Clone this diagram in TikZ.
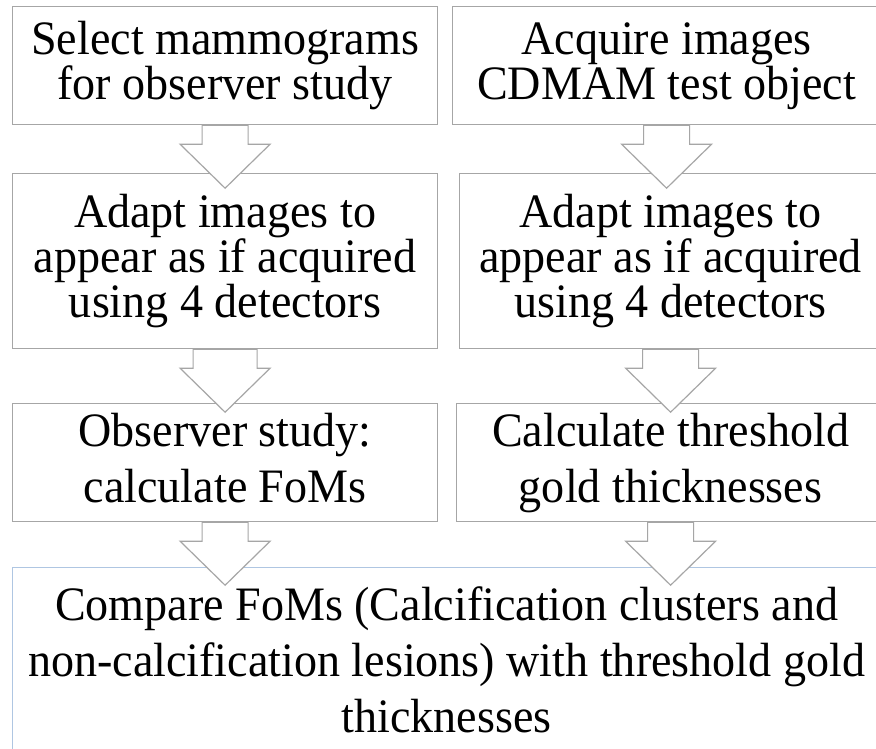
\documentclass[tikz,border=0pt]{standalone}
\usepackage{fontspec}
\setmainfont{Liberation Serif}[FakeStretch=0.96]
\usepackage{tikz}
\usetikzlibrary{calc,positioning}
\definecolor{boxgray}{RGB}{166,166,166}
\definecolor{boxblue}{RGB}{175,198,226}
\newcommand{\topst}{\vrule height 35pt width 0pt}
\newcommand{\botst}{\vrule depth 12pt width 0pt}

\begin{document}
\begin{tikzpicture}[x=1pt, y=-1pt,
  box/.style={draw=boxgray, line width=1.2pt, fill=white, inner sep=0pt,
    anchor=north west, align=center, font={\fontsize{48}{45}\selectfont}},
  wide/.style={font={\fontsize{48}{56}\selectfont}},
  blockarrow/.style={draw=boxgray, fill=white, line width=1.2pt,
    to path={($(\tikztostart)+(-#1,0)$) -- ($(\tikztostart)+(-#1,19)$)
      -- ($(\tikztostart)+(-45,19)$) -- ($(\tikztostart)+(0,63)$)
      -- ($(\tikztostart)+(45,19)$) -- ($(\tikztostart)+(#1,19)$)
      -- ($(\tikztostart)+(#1,0)$) -- cycle}},
  blockarrow/.default=23]

\useasboundingbox (0,0) rectangle (876,749);
\fill[white] (0,0) rectangle (876,749);
\clip (0,0) rectangle (876,749);

% Left column: mammograms
\node[box, minimum width=425pt, minimum height=118pt] (sel) at (12,6)
  {\topst Select mammograms\\for observer study\botst};
\node[box, minimum width=425pt, minimum height=175pt] (adaptL) at (12,173)
  {\topst Adapt images to\\appear as if acquired\\using 4 detectors\botst};
\node[box, wide, minimum width=425pt, minimum height=118pt] (obs) at (12,403)
  {\topst Observer study:\\calculate FoMs\botst};

% Right column: CDMAM
\node[box, minimum width=428pt, minimum height=118pt] (acq) at (452,6)
  {\topst Acquire images\\CDMAM test object\botst};
\node[box, minimum width=422pt, minimum height=175pt] (adaptR) at (459,173)
  {\topst Adapt images to\\appear as if acquired\\using 4 detectors\botst};
\node[box, wide, minimum width=428pt, minimum height=118pt] (calc) at (456,403)
  {\topst Calculate threshold\\gold thicknesses\botst};

% Comparison
\node[box, wide, draw=boxblue, minimum width=868pt, minimum height=194pt] (cmp) at (12,567)
  {\topst Compare FoMs (Calcification clusters and\\non-calcification lesions) with threshold gold\\thicknesses\botst};

% Block arrows
\draw[blockarrow] (sel.south) to (adaptL.north);
\draw[blockarrow=32] (adaptL.south) to (obs.north);
\draw[blockarrow] (obs.south) to (cmp.north);
\draw[blockarrow] (acq.south) to (adaptR.north);
\draw[blockarrow=28] (adaptR.south) to (calc.north);
\draw[blockarrow] (calc.south) to (cmp.north);

\end{tikzpicture}
\end{document}
